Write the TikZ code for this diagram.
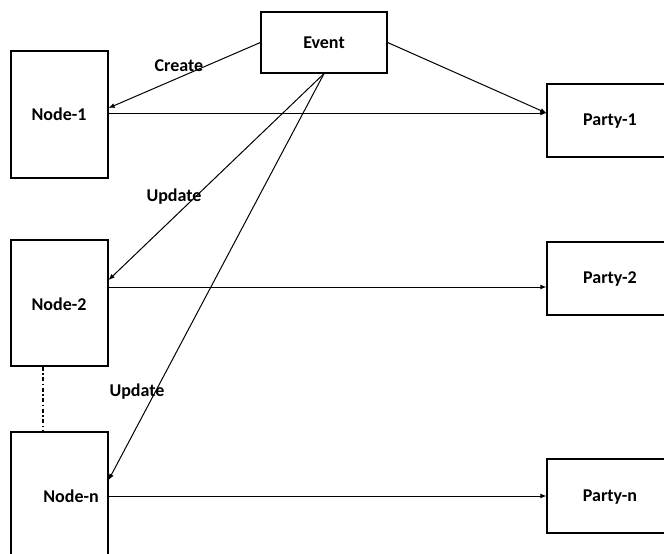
\documentclass[tikz,border=0pt]{standalone}
\usepackage{fontspec}
\setmainfont{Carlito}
\usetikzlibrary{arrows.meta}
\begin{document}
\begin{tikzpicture}[x=1pt,y=-1pt,
  box/.style={draw, line width=1.2pt, rectangle, inner sep=0pt},
  lbl/.style={font=\fontsize{18}{21}\selectfont\bfseries, inner sep=0pt},
  arr/.style={line width=1pt, -{Latex[length=6pt,width=5pt]}},
  link/.style={line width=1.6pt}]
  \useasboundingbox (0,0) rectangle (664,554);
  % boxes
  \node[box, minimum width=126pt, minimum height=61pt] (ev) at (324,42.5) {};
  \node[lbl] (evt) at (324,43) {Event};
  \node[box, minimum width=97pt, minimum height=127pt] (n1) at (59.5,114.5) {};
  \node[lbl] (n1t) at (59,114) {Node-1};
  \node[box, minimum width=97pt, minimum height=126pt] (n2) at (59.5,303) {};
  \node[lbl] (n2t) at (59,304) {Node-2};
  \node[box, minimum width=97pt, minimum height=127pt] (nn) at (59.5,495.5) {};
  \node[lbl] (nnt) at (71,496) {Node-n};
  \node[box, minimum width=126pt, minimum height=73pt] (p1) at (610,120.5) {};
  \node[lbl] (p1t) at (610,121) {Party-1};
  \node[box, minimum width=126pt, minimum height=73pt] (p2) at (610,278.5) {};
  \node[lbl] (p2t) at (610,279) {Party-2};
  \node[box, minimum width=126pt, minimum height=74pt] (pn) at (610,496) {};
  \node[lbl] (pnt) at (610,497) {Party-n};
  % event connectors
  \draw[arr] (ev.west) -- (n1.east |- 0,108);
  \draw[arr] (ev.east) -- (p1.west |- 0,113);
  \draw[arr] (ev.south) -- (n2.east |- 0,280);
  \draw[arr] (ev.south) -- (nn.east |- 0,480);
  % node to party
  \draw[arr] (n1.east |- 0,113) -- (p1.west |- 0,113);
  \draw[arr] (n2.east |- 0,287) -- (p2.west |- 0,287);
  \draw[arr] (nn.east |- 0,496) -- (pn.west |- 0,496);
  % elided nodes
  \draw[link, dash pattern=on 4pt off 2.5pt on 1.5pt off 2.5pt] (n2.south -| 43,0) -- (nn.north -| 43,0);
  % labels
  \node[lbl] (lc) at (179,66) {Create};
  \node[lbl] (lu1) at (174,197) {Update};
  \node[lbl] (lu2) at (137,392) {Update};
\end{tikzpicture}
\end{document}
